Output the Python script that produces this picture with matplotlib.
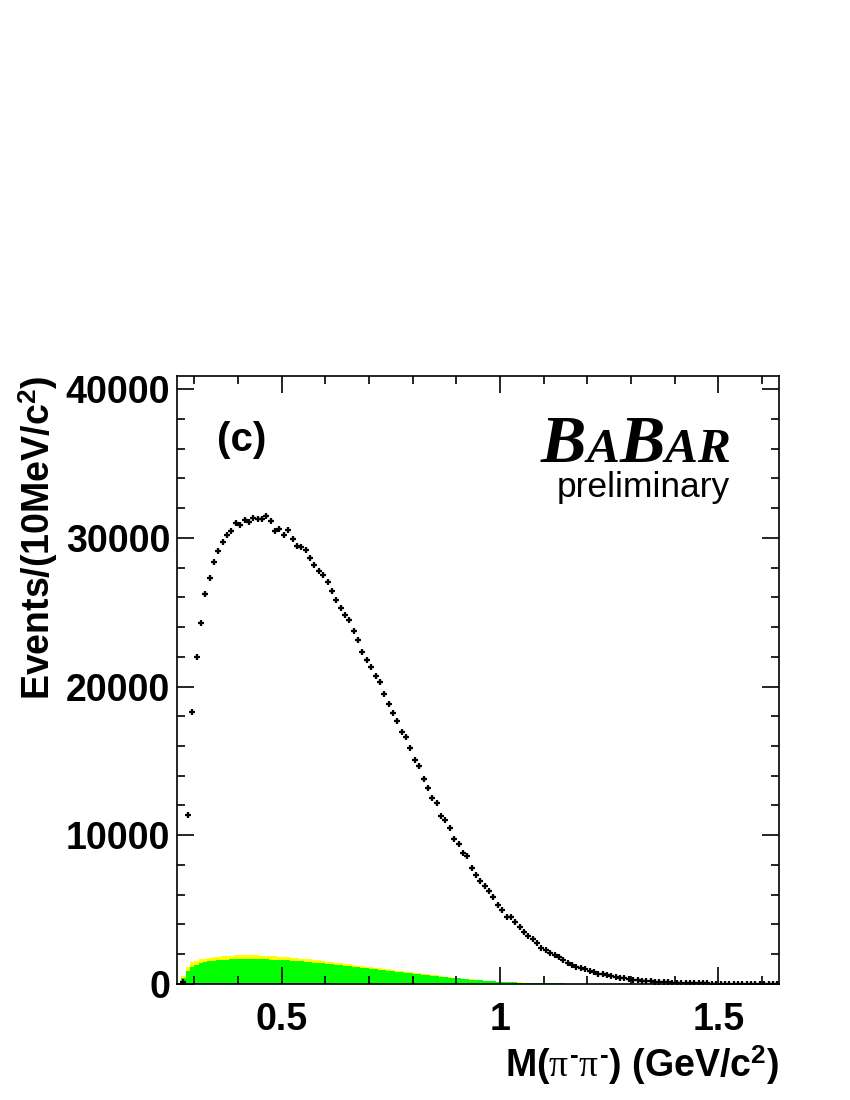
import matplotlib
matplotlib.use("Agg")
import matplotlib.pyplot as plt
from matplotlib.ticker import MultipleLocator
import numpy as np

plt.rcParams['font.family'] = ['Liberation Sans', 'DejaVu Sans']
plt.rcParams['mathtext.fontset'] = 'custom'
plt.rcParams['mathtext.rm'] = 'Liberation Sans:bold'
plt.rcParams['mathtext.bf'] = 'Liberation Sans:bold'
plt.rcParams['mathtext.it'] = 'Liberation Serif'

# data points, 10 MeV bins, first bin centre 0.275 GeV
first_centre = 0.275
counts = [
    150, 11330, 18270, 21970, 24280, 26200, 27290, 28350, 29120, 29730,
    30160, 30430, 31010, 30880, 31220, 31040, 31360, 31280, 31280, 31490,
    31140, 30480, 30610, 30210, 30530, 29950, 29470, 29360, 29180, 28670,
    28160, 27770, 27530, 27050, 26410, 25800, 25290, 24810, 24470, 23750,
    23140, 22340, 21810, 21280, 20720, 20270, 19470, 18830, 18220, 17660,
    16910, 16600, 15850, 15080, 14650, 13780, 13190, 12530, 12150, 11280,
    11010, 10480, 9760, 9410, 8800, 8620, 7770, 7340, 6940, 6600,
    6220, 5880, 5290, 4950, 4490, 4470, 4150, 3830, 3510, 3240,
    3030, 2770, 2450, 2290, 2100, 1970, 1780, 1600, 1440, 1300,
    1170, 1040, 980, 900, 770, 690, 640, 590, 510, 450,
    400, 370, 320, 290, 260, 230, 200, 180, 160, 140,
    120, 110, 95, 85, 75, 65, 55, 50, 45, 40,
    35, 30, 27, 24, 21, 18, 16, 14, 12, 10,
    9, 8, 7, 6, 5, 4, 3,
]

# background components, bins starting at 0.26 GeV
bkg_start = 0.26
blue_bkg = [
    0, 20, 40, 50, 50, 50, 50, 50, 50, 50,
    50, 50, 50, 50, 50, 50, 50, 50, 50, 50,
    45, 45, 45, 45, 45, 40, 40, 40, 40, 40,
    35, 35, 35, 35, 35, 30, 30, 30, 30, 30,
    25, 25, 25, 25, 25, 20, 20, 20, 20, 20,
    15, 15, 15, 15, 15, 10, 10, 10, 10, 10,
    8, 8, 8, 8, 8, 6, 6, 6, 6, 6,
]
green_bkg = [
    0, 380, 810, 1110, 1250, 1370, 1430, 1480, 1520, 1550,
    1570, 1590, 1600, 1630, 1640, 1650, 1650, 1640, 1630, 1620,
    1615, 1595, 1585, 1565, 1555, 1540, 1520, 1500, 1470, 1450,
    1435, 1405, 1375, 1345, 1310, 1290, 1260, 1220, 1190, 1160,
    1135, 1095, 1065, 1025, 995, 970, 930, 900, 870, 830,
    805, 775, 745, 705, 675, 650, 610, 580, 550, 520,
    482, 452, 422, 392, 362, 334, 304, 284, 254, 234,
    214, 194, 174, 154, 144, 129, 114, 104, 94, 84,
    76, 69, 62, 56, 50, 44, 40, 36, 32, 28,
    25, 22, 19, 16, 14, 12, 10, 8, 7, 6, 5,
]
yellow_bkg = [
    0, 150, 300, 300, 250, 230, 230, 240, 240, 240,
    240, 250, 250, 250, 250, 250, 240, 240, 240, 230,
    230, 220, 220, 210, 210, 200, 200, 190, 190, 180,
    180, 170, 170, 160, 160, 150, 150, 140, 140, 130,
    130, 120, 120, 115, 110, 105, 100, 95, 90, 85,
    80, 75, 70, 66, 62, 58, 54, 50, 46, 42,
    38, 35, 32, 29, 26, 24, 22, 20, 18, 16,
    14, 12, 10, 9, 8, 7, 6, 5, 4, 3,
]

fig = plt.figure(figsize=(8.5, 11), dpi=100)
ax = fig.add_axes([0.2086, 0.1055, 0.7079, 0.5527])

def stack_level(*layers):
    n = max(len(l) for l in layers)
    tot = np.zeros(n)
    for l in layers:
        tot[:len(l)] += np.array(l, dtype=float)
    return tot

lvl_yellow = stack_level(blue_bkg, green_bkg, yellow_bkg)
lvl_green = stack_level(blue_bkg, green_bkg)
lvl_blue = stack_level(blue_bkg)

for lvl, col in [(lvl_yellow, '#ffff00'), (lvl_green, '#00ff00'), (lvl_blue, '#3050ff')]:
    edges = bkg_start + 0.01 * np.arange(len(lvl) + 1)
    ax.stairs(lvl, edges, fill=True, color=col, linewidth=0)

mass = first_centre + 0.01 * np.arange(len(counts))
cnt = np.array(counts, dtype=float)
ax.errorbar(mass, cnt, xerr=0.0045, yerr=np.sqrt(cnt), fmt='none',
            ecolor='black', elinewidth=1.5, capsize=0, zorder=5)
ax.plot(mass, cnt, linestyle='none', marker='+', ms=4.5, mew=1.6,
        color='black', zorder=6)

ax.set_xlim(0.261, 1.639)
ax.set_ylim(0, 40880)

ax.xaxis.set_minor_locator(MultipleLocator(0.1))
ax.yaxis.set_major_locator(MultipleLocator(10000))
ax.yaxis.set_minor_locator(MultipleLocator(2000))
ax.set_xticks([0.5, 1.0, 1.5])
ax.set_xticklabels(['0.5', '1', '1.5'])

ax.tick_params(which='both', direction='in', top=True, right=True, width=1.2)
ax.tick_params(which='major', length=12.5, labelsize=27)
ax.tick_params(axis='x', which='major', pad=13)
ax.tick_params(axis='y', which='major', pad=5)
ax.tick_params(which='minor', length=6)
for lab in ax.get_xticklabels() + ax.get_yticklabels():
    lab.set_fontweight('bold')
for sp in ax.spines.values():
    sp.set_linewidth(1.2)

fig.text(0.9165, 0.0318, 'M($\\pi^{\\mathrm{\u2010}}\\pi^{\\mathrm{\u2010}}$) (GeV/c$^{\\mathrm{2}}$)',
         ha='right', va='center', fontsize=27, fontweight='bold')
fig.text(0.045, 0.6582, r'Events/(10MeV/c$^{\mathrm{2}}$)', rotation=90,
         ha='center', va='top', fontsize=27, fontweight='bold')

ax.text(0.066, 0.895, '(c)', transform=ax.transAxes, fontsize=29,
        fontweight='bold', ha='left', va='center')

# BaBar logo, big B and small caps A
fig.canvas.draw()
rend = fig.canvas.get_renderer()
x_px, base_px = 541, 1100 - 462
pieces = [('B', 49), ('A', 35.5), ('B', 49), ('A', 35.5), ('R', 35.5)]
for ch, size in pieces:
    t = fig.text(x_px / 850, base_px / 1100, ch, fontsize=size,
                 family='Liberation Serif', fontweight='bold', style='italic',
                 ha='left', va='baseline')
    bb = t.get_window_extent(rend)
    x_px = bb.x1
fig.text(730 / 850, 1 - 497 / 1100, 'preliminary', fontsize=25.5,
         ha='right', va='baseline')

fig.savefig('out.png', dpi=100)
